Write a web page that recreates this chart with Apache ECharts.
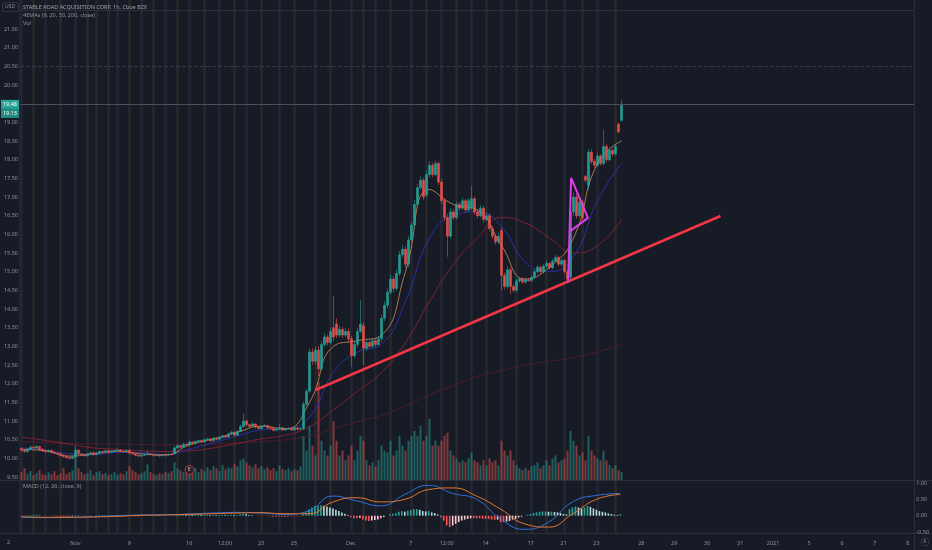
<!DOCTYPE html>
<html>
<head>
<meta charset="utf-8">
<title>STABLE ROAD ACQUISITION CORP, 1h</title>
<script src="https://cdn.jsdelivr.net/npm/echarts@6/dist/echarts.min.js"></script>
<style>
html, body { margin: 0; padding: 0; background: #171b26; }
#main { width: 932px; height: 550px; }
</style>
</head>
<body>
<div id="main"></div>
<script>
// hourly bars, one value per slot (slot 0 = first bar on screen)
var opens = [
	10.26,10.22,10.18,10.25,10.30,10.28,10.32,10.24,10.20,10.18,
	10.21,10.16,10.14,10.12,10.08,10.05,10.02,10.00,10.04,10.22,
	10.12,10.10,10.07,10.12,10.15,10.10,10.14,10.18,10.17,10.20,
	10.16,10.19,10.21,10.22,10.19,10.18,10.21,10.15,10.12,10.08,
	10.06,10.08,10.10,10.12,10.10,10.08,10.09,10.07,10.10,10.09,
	10.11,10.12,10.28,10.34,10.30,10.38,10.36,10.44,10.40,10.45,
	10.48,10.44,10.50,10.52,10.47,10.54,10.51,10.56,10.60,10.57,
	10.65,10.70,10.62,10.72,10.85,11.00,10.90,10.86,10.92,10.84,
	10.80,10.86,10.88,10.82,10.80,10.75,10.78,10.82,10.76,10.79,
	10.80,10.76,10.81,10.78,10.80,11.45,11.80,12.85,12.60,12.90,
	12.40,13.05,13.25,13.10,13.50,13.60,13.30,13.45,13.30,13.40,
	13.20,12.75,13.05,13.40,13.55,12.95,13.10,13.00,13.15,13.05,
	13.20,13.75,14.10,14.45,14.80,14.55,14.95,15.45,15.60,15.20,
	15.85,16.25,16.80,17.25,17.45,17.05,17.60,17.85,17.60,17.90,
	17.40,16.90,16.45,15.95,16.60,16.45,16.80,16.70,16.90,16.65,
	16.70,16.95,16.60,16.50,16.70,16.40,16.50,16.15,15.95,15.80,
	16.10,14.90,14.60,15.05,14.60,14.50,14.75,14.80,14.72,14.78,
	14.76,14.85,15.00,15.12,15.00,15.15,15.22,15.10,15.28,15.38,
	15.20,15.30,15.00,14.85,16.60,17.00,16.50,16.85,17.55,17.30,
	18.20,17.95,17.85,18.10,17.90,18.35,18.00,18.25,18.15,18.95,
	19.05
];
var closes = [
	10.22,10.18,10.25,10.30,10.28,10.32,10.24,10.20,10.18,10.21,
	10.16,10.14,10.12,10.08,10.05,10.02,10.00,10.04,10.22,10.12,
	10.10,10.07,10.12,10.15,10.10,10.14,10.18,10.17,10.20,10.16,
	10.19,10.21,10.22,10.19,10.18,10.21,10.15,10.12,10.08,10.06,
	10.08,10.10,10.12,10.10,10.08,10.09,10.07,10.10,10.09,10.11,
	10.10,10.28,10.34,10.30,10.38,10.36,10.44,10.40,10.45,10.48,
	10.44,10.50,10.52,10.47,10.54,10.51,10.56,10.60,10.57,10.65,
	10.70,10.62,10.72,10.85,11.00,10.90,10.86,10.92,10.84,10.80,
	10.86,10.88,10.82,10.80,10.75,10.78,10.82,10.76,10.79,10.80,
	10.76,10.81,10.78,10.80,11.45,11.80,12.85,12.60,12.90,12.40,
	13.05,13.25,13.10,13.40,13.25,13.30,13.45,13.30,13.40,13.20,
	12.75,13.05,13.40,13.60,12.95,13.10,13.00,13.15,13.05,13.20,
	13.75,14.10,14.45,14.80,14.55,14.95,15.45,15.60,15.20,15.85,
	16.25,16.80,17.25,17.45,17.00,17.60,17.85,17.60,17.90,17.40,
	16.90,16.45,15.95,16.60,16.45,16.80,16.70,16.90,16.65,16.90,
	16.95,16.60,16.50,16.70,16.40,16.50,16.15,15.95,15.80,15.95,
	14.90,14.60,15.05,14.60,14.50,14.75,14.80,14.72,14.78,14.76,
	14.85,15.00,15.12,15.00,15.15,15.22,15.10,15.28,15.38,15.20,
	15.30,15.00,14.80,16.60,17.00,16.50,16.85,16.45,17.45,18.20,
	17.95,17.85,18.10,17.90,18.35,18.00,18.25,18.15,18.35,18.75,
	19.48
];
var lows = [
	10.17,10.15,10.15,10.22,10.25,10.25,10.21,10.17,10.15,10.15,
	10.13,10.11,10.09,10.05,10.02,9.99,9.97,9.98,10.02,10.09,
	10.07,10.04,10.05,10.10,10.07,10.08,10.12,10.14,10.15,10.13,
	10.14,10.17,10.19,10.16,10.15,10.16,10.10,10.09,10.05,10.03,
	10.03,10.06,10.07,10.07,10.05,10.06,10.04,10.05,10.06,10.07,
	10.07,10.10,10.25,10.27,10.28,10.33,10.34,10.37,10.38,10.42,
	10.41,10.42,10.47,10.44,10.45,10.48,10.49,10.53,10.54,10.55,
	10.62,10.58,10.60,10.70,10.82,10.86,10.82,10.84,10.80,10.77,
	10.77,10.84,10.79,10.77,10.72,10.73,10.76,10.73,10.74,10.76,
	10.73,10.74,10.75,10.76,10.76,11.40,11.75,12.50,12.50,12.20,
	12.35,12.98,13.02,13.05,13.15,13.22,13.25,13.22,13.25,13.12,
	12.45,12.68,12.98,13.35,12.50,12.88,12.94,12.95,12.98,13.00,
	13.12,13.68,14.02,14.38,14.45,14.48,14.88,15.38,15.10,15.12,
	15.78,16.18,16.72,17.18,16.92,16.98,17.52,17.52,17.55,17.32,
	16.80,16.35,15.40,15.88,16.38,16.40,16.62,16.65,16.58,16.60,
	16.65,16.52,16.42,16.45,16.32,16.35,16.08,15.88,15.72,15.74,
	14.50,14.52,14.55,14.40,14.44,14.45,14.70,14.68,14.68,14.72,
	14.72,14.80,14.95,14.95,14.96,15.10,15.05,15.06,15.24,15.14,
	15.15,14.95,14.70,14.80,16.50,16.42,16.44,16.38,17.38,17.20,
	17.88,17.78,17.80,17.84,17.85,17.92,17.95,18.08,18.10,18.70,
	19.02
];
var highs = [
	10.29,10.25,10.28,10.34,10.33,10.35,10.34,10.27,10.23,10.24,
	10.24,10.19,10.17,10.15,10.11,10.08,10.05,10.07,10.33,10.24,
	10.15,10.13,10.14,10.18,10.17,10.17,10.21,10.20,10.23,10.22,
	10.22,10.23,10.25,10.24,10.21,10.23,10.24,10.17,10.14,10.10,
	10.10,10.12,10.22,10.14,10.12,10.11,10.11,10.12,10.12,10.13,
	10.13,10.33,10.38,10.36,10.42,10.40,10.47,10.46,10.48,10.50,
	10.50,10.53,10.55,10.54,10.57,10.56,10.59,10.63,10.62,10.68,
	10.74,10.72,10.76,10.90,11.20,11.04,10.93,10.96,10.94,10.87,
	10.89,10.91,10.90,10.84,10.82,10.81,10.92,10.84,10.82,10.83,
	10.83,10.84,10.83,10.83,11.52,11.86,12.95,12.95,13.00,13.02,
	13.15,13.35,13.32,13.50,14.35,13.75,13.55,13.52,13.50,13.48,
	13.28,13.15,13.50,14.25,13.65,13.18,13.16,13.22,13.20,13.28,
	13.85,14.20,14.55,14.92,14.88,15.05,15.55,15.72,15.68,15.95,
	16.35,16.92,17.35,17.55,17.52,17.70,17.95,17.92,17.98,17.95,
	17.48,16.98,16.55,16.70,16.68,16.88,16.86,16.98,16.95,16.98,
	17.30,17.02,16.68,16.78,16.76,16.58,16.56,16.22,16.02,16.05,
	16.18,14.98,15.15,15.12,14.66,14.82,14.86,14.85,14.84,14.83,
	14.90,15.06,15.18,15.16,15.20,15.28,15.26,15.34,15.45,15.42,
	15.35,15.34,15.05,17.10,17.12,17.08,16.95,16.92,17.60,18.28,
	18.28,18.02,18.18,18.15,18.80,18.42,18.32,18.30,18.42,19.00,
	19.60
];
var volumes = [
	8,12,6,9,5,7,10,6,5,8,
	6,9,5,7,12,6,8,10,28,12,
	8,6,7,10,5,8,9,6,7,5,
	6,8,5,7,6,9,14,10,8,6,
	7,9,16,8,6,5,7,6,8,7,
	9,18,12,10,8,14,10,9,12,8,
	11,9,13,10,14,12,9,15,11,13,
	12,16,14,20,22,18,15,13,16,12,
	14,11,13,10,12,9,15,11,10,12,
	9,11,10,14,45,30,55,35,25,100,
	40,30,25,35,60,40,25,30,20,25,
	35,20,30,45,40,20,15,18,14,20,
	35,30,28,40,25,30,45,35,30,40,
	45,50,45,55,40,45,62,35,40,35,
	40,45,48,30,25,22,18,20,18,22,
	28,20,18,15,20,15,22,18,20,15,
	40,30,25,30,20,15,12,10,12,10,
	14,15,18,12,15,20,15,22,25,18,
	20,22,30,50,40,35,25,28,20,45,
	30,25,22,20,30,20,15,12,15,10,
	8
];
var macdHist = [
	-0.01,-0.01,0.01,0.02,0.02,0.03,0.01,0.0,-0.01,0.0,
	-0.01,-0.02,-0.02,-0.03,-0.03,-0.03,-0.03,-0.02,0.02,0.01,
	0.0,-0.01,0.0,0.01,0.0,0.01,0.02,0.02,0.02,0.01,
	0.02,0.02,0.02,0.01,0.01,0.01,-0.01,-0.01,-0.02,-0.02,
	-0.01,-0.01,0.0,-0.01,-0.01,-0.01,-0.01,0.0,0.0,0.0,
	0.0,0.03,0.04,0.04,0.05,0.04,0.05,0.04,0.04,0.04,
	0.03,0.03,0.03,0.02,0.03,0.02,0.02,0.03,0.02,0.03,
	0.03,0.02,0.02,0.04,0.05,0.04,0.02,0.01,0.0,-0.01,
	-0.01,-0.01,-0.02,-0.02,-0.03,-0.03,-0.02,-0.03,-0.03,-0.02,
	-0.02,-0.02,-0.02,-0.02,0.05,0.1,0.2,0.25,0.3,0.3,
	0.32,0.3,0.28,0.25,0.22,0.18,0.14,0.1,0.06,0.02,
	-0.05,-0.08,-0.08,-0.06,-0.12,-0.15,-0.16,-0.15,-0.13,-0.12,
	-0.08,-0.04,0.0,0.04,0.06,0.08,0.12,0.14,0.12,0.15,
	0.17,0.2,0.2,0.18,0.14,0.13,0.14,0.1,0.08,0.04,
	-0.05,-0.15,-0.3,-0.35,-0.3,-0.25,-0.2,-0.15,-0.12,-0.1,
	-0.08,-0.08,-0.08,-0.08,-0.1,-0.1,-0.1,-0.12,-0.13,-0.12,
	-0.2,-0.2,-0.18,-0.16,-0.12,-0.1,-0.06,-0.03,0.0,0.03,
	0.05,0.08,0.1,0.12,0.13,0.13,0.12,0.12,0.11,0.1,
	0.08,0.05,0.04,0.2,0.25,0.28,0.25,0.22,0.25,0.3,
	0.27,0.22,0.18,0.14,0.12,0.1,0.07,0.05,0.03,0.02,
	0.05
];

// indicator lines read every 8th slot
var lineSlots = [0,8,16,24,32,40,48,56,64,72,80,88,96,104,112,120,128,136,144,152,160,168,176,184,192,200];
var ema9 = [10.24,10.20,10.06,10.12,10.19,10.12,10.09,10.36,10.52,10.70,10.86,10.79,11.50,13.00,13.15,13.30,15.00,17.20,16.80,16.65,15.70,14.80,15.12,15.90,17.90,18.50];
var ema20 = [10.28,10.22,10.12,10.10,10.16,10.15,10.10,10.25,10.42,10.60,10.76,10.79,11.10,12.30,12.85,13.05,14.20,15.90,16.50,16.60,16.20,15.25,15.00,15.40,16.90,17.90];
var ema50 = [10.57,10.48,10.38,10.28,10.24,10.20,10.18,10.20,10.28,10.40,10.52,10.62,10.85,11.30,11.80,12.30,13.10,14.20,15.20,15.90,16.45,16.30,15.90,15.50,15.70,16.40];
var ema200 = [10.45,10.42,10.40,10.39,10.38,10.37,10.36,10.37,10.38,10.41,10.45,10.50,10.60,10.80,10.98,11.15,11.40,11.70,11.95,12.20,12.35,12.50,12.60,12.70,12.85,13.05];
var macdLine = [-0.05,-0.06,-0.05,-0.03,0.0,0.02,0.03,0.05,0.08,0.10,0.08,0.04,0.15,0.60,0.45,0.30,0.65,0.93,0.68,0.50,-0.10,-0.42,-0.20,0.42,0.62,0.68];
var signalLine = [-0.03,-0.05,-0.05,-0.04,-0.02,0.01,0.02,0.04,0.06,0.08,0.09,0.06,0.06,0.42,0.55,0.42,0.50,0.80,0.85,0.60,0.20,-0.25,-0.35,0.05,0.50,0.65];

// session starts (extended hours shading)
var sessionSlots = [0,4,8,13,18,22,25,29,32,36,40,44,48,52,56,61,66,71,75,80,86,91,98,103,110,114,118,123,130,135,140,145,150,155,160,165,170,175,181,187,192,198];

// time axis labels
var tickSlots = [18,36,56,68,80,91,110,130,142,155,170,181,192,207,218,229,240,251,263,274,285,296];
var tickLabels = ['Nov','9','16','12:00','23','25','Dec','7','12:00','14','17','21','23','28','29','30','31','2021','5','6','7','8'];

// drawings (slot, price)
var trendLine = [[98, 11.83], [233, 16.49]];
var flagPath = [[182.2, 14.72], [183.2, 17.51], [188.8, 16.44], [182.5, 16.06]];

var lastPrice = 19.48;
var prePrice = 19.13;

var UP = '#26a69a', DOWN = '#ef5350';
var TXT = '#8f929b';
var FONT = 'Noto Sans';

var candleData = closes.map(function(c, i) { return [i, opens[i], c, lows[i], highs[i]]; });
var volData = volumes.map(function(v, i) {
	return { value: [i, v], itemStyle: { color: closes[i] >= opens[i] ? 'rgba(38,166,154,0.5)' : 'rgba(239,83,80,0.5)' } };
});
var histData = macdHist.map(function(h, i) {
	var prev = i > 0 ? macdHist[i - 1] : h;
	var col;
	if(h >= 0) col = h >= prev ? '#26a69a' : '#b2dfdb';
	else col = h <= prev ? '#ff5252' : '#ffcdd2';
	return { value: [i, h], itemStyle: { color: col } };
});
function pts(arr) {
	return lineSlots.map(function(s, k) { return [s, arr[k]]; });
}
// alternate the two shading tones like the pre / post market bands
var stripeData = sessionSlots.map(function(s, k) {
	return { value: [s, 1], itemStyle: { color: k % 2 ? 'rgba(120,98,60,0.2)' : 'rgba(95,100,95,0.17)' } };
});

function xAx(grid, showLabels) {
	return {
		type: 'value', gridIndex: grid, min: -0.5, max: 297.5,
		axisLine: { show: false }, axisTick: { show: false }, splitLine: { show: false },
		axisLabel: showLabels ? {
			customValues: tickSlots,
			color: TXT, fontSize: 5.5, fontFamily: FONT, margin: 8,
			formatter: function(v) {
				var k = tickSlots.indexOf(v);
				return k >= 0 ? tickLabels[k] : '';
			}
		} : { show: false }
	};
}

var chart = echarts.init(document.getElementById('main'));
var option = {
	backgroundColor: '#171b26',
	animation: false,
	grid: [
		{ left: 20, right: 18, top: 10.3, height: 466.7 },
		{ left: 20, right: 18, top: 370, height: 110 },
		{ left: 20, right: 18, top: 483, height: 49 },
		{ left: 20, right: 18, top: 0, height: 533 }
	],
	xAxis: [xAx(0, false), xAx(1, false), xAx(2, true), xAx(3, false)],
	yAxis: [
		{
			type: 'value', gridIndex: 0, position: 'left', min: 9.5, max: 22, interval: 0.5,
			axisLine: { show: false }, axisTick: { show: false }, splitLine: { show: false },
			axisLabel: {
				color: TXT, fontSize: 5.5, fontFamily: FONT, margin: 2,
				formatter: function(v) { return v >= 22 ? '' : v.toFixed(2); }
			}
		},
		{ type: 'value', gridIndex: 1, min: 0, max: 112, show: false },
		{
			type: 'value', gridIndex: 2, position: 'right', min: -0.5, max: 1, interval: 0.5,
			axisLine: { show: false }, axisTick: { show: false }, splitLine: { show: false },
			axisLabel: {
				color: TXT, fontSize: 5.5, fontFamily: FONT, margin: 4,
				showMinLabel: true, showMaxLabel: true,
				formatter: function(v) { return v.toFixed(2); }
			}
		},
		{ type: 'value', gridIndex: 3, min: 0, max: 1, show: false }
	],
	graphic: [
		{ type: 'line', shape: { x1: 19.5, y1: 0, x2: 19.5, y2: 533 }, style: { stroke: '#232733', lineWidth: 1 }, silent: true },
		{ type: 'line', shape: { x1: 914.5, y1: 0, x2: 914.5, y2: 550 }, style: { stroke: '#2a2e39', lineWidth: 1 }, silent: true },
		{ type: 'line', shape: { x1: 0, y1: 480.5, x2: 932, y2: 480.5 }, style: { stroke: '#2a2e39', lineWidth: 1 }, silent: true },
		{ type: 'line', shape: { x1: 0, y1: 533.5, x2: 932, y2: 533.5 }, style: { stroke: '#2a2e39', lineWidth: 1 }, silent: true },
		{ type: 'rect', shape: { x: 2.5, y: 2.5, width: 16, height: 9, r: 1.5 }, style: { fill: 'none', stroke: '#3a3e4a', lineWidth: 0.8 }, silent: true },
		{ type: 'text', left: 5, top: 4.3, style: { text: 'USD', fill: TXT, font: '5px ' + FONT }, silent: true },
		{ type: 'text', left: 23, top: 4, style: { text: 'STABLE ROAD ACQUISITION CORP, 1h, Cboe BZX', fill: '#a3a6af', font: '5.5px ' + FONT }, silent: true },
		{ type: 'text', left: 23, top: 12, style: { text: '4EMAs (9, 20, 50, 200, close)', fill: TXT, font: '5.5px ' + FONT }, silent: true },
		{ type: 'text', left: 23, top: 20, style: { text: 'Vol', fill: TXT, font: '5.5px ' + FONT }, silent: true },
		{ type: 'text', left: 23, top: 483, style: { text: 'MACD (12, 26, close, 9)', fill: TXT, font: '5.5px ' + FONT }, silent: true },
		{ type: 'text', left: 7, top: 539.5, style: { text: '2', fill: TXT, font: '5.5px ' + FONT }, silent: true },
		{ type: 'circle', shape: { cx: 925, cy: 542, r: 4 }, style: { fill: 'none', stroke: '#3a3e4a', lineWidth: 0.8 }, silent: true },
		{ type: 'text', left: 923.3, top: 539.3, style: { text: 'A', fill: TXT, font: '5px ' + FONT }, silent: true }
	],
	series: [
		{
			name: 'sessions', type: 'bar', xAxisIndex: 3, yAxisIndex: 3, data: stripeData,
			barWidth: 2.5, silent: true, z: 0
		},
		{
			name: 'Vol', type: 'bar', xAxisIndex: 1, yAxisIndex: 1, data: volData,
			barWidth: 2, silent: true, z: 1
		},
		{
			name: 'EMA200', type: 'line', data: pts(ema200), smooth: true, symbol: 'none', silent: true, z: 2,
			lineStyle: { color: '#5a1d2c', width: 1, opacity: 0.8 }
		},
		{
			name: 'EMA50', type: 'line', data: pts(ema50), smooth: true, symbol: 'none', silent: true, z: 2,
			lineStyle: { color: '#8e2236', width: 1, opacity: 0.85 }
		},
		{
			name: 'EMA20', type: 'line', data: pts(ema20), smooth: true, symbol: 'none', silent: true, z: 2,
			lineStyle: { color: '#2c2fa6', width: 1 }
		},
		{
			name: 'EMA9', type: 'line', data: pts(ema9), smooth: true, symbol: 'none', silent: true, z: 2,
			lineStyle: { color: '#b8844f', width: 0.9 }
		},
		{
			name: 'price', type: 'candlestick', data: candleData, encode: { x: 0, y: [1, 2, 3, 4] },
			barWidth: 2, silent: true, z: 3,
			itemStyle: { color: UP, color0: DOWN, borderColor: UP, borderColor0: DOWN, borderWidth: 0.6, opacity: 0.9 },
			markLine: {
				silent: true, symbol: 'none', animation: false,
				data: [
					{ yAxis: 22, lineStyle: { color: '#2c303b', width: 1, type: 'solid' }, label: { show: false } },
					{ yAxis: 20.5, lineStyle: { color: '#363a46', width: 1, type: 'dashed' }, label: { show: false } },
					{
						yAxis: lastPrice, lineStyle: { color: '#4a4f5c', width: 1, type: 'solid' },
						label: { show: true, position: 'start', distance: 1, formatter: lastPrice.toFixed(2), color: '#ffffff', backgroundColor: '#26a69a', fontSize: 5.5, fontFamily: FONT, padding: [1.5, 2] }
					},
					{
						yAxis: prePrice, lineStyle: { color: 'rgba(0,0,0,0)', width: 1 },
						label: { show: true, position: 'start', distance: 1, offset: [0, -4], formatter: prePrice.toFixed(2), color: '#ffffff', backgroundColor: '#1f8b80', fontSize: 5.5, fontFamily: FONT, padding: [1.5, 2] }
					}
				]
			},
			markPoint: {
				silent: true, symbol: 'circle', symbolSize: 9,
				itemStyle: { color: '#2a1d26', borderColor: '#a8403f', borderWidth: 1 },
				label: { show: true, formatter: 'E', color: '#d0d0d0', fontSize: 5, fontFamily: FONT },
				data: [{ coord: [56, 9.69] }]
			}
		},
		{
			name: 'trend', type: 'line', data: trendLine, symbol: 'none', silent: true, z: 5,
			lineStyle: { color: '#f23645', width: 2.5 }
		},
		{
			name: 'flag', type: 'line', data: flagPath, symbol: 'none', silent: true, z: 5,
			lineStyle: { color: '#e03ce6', width: 2 }
		},
		{
			name: 'Histogram', type: 'bar', xAxisIndex: 2, yAxisIndex: 2, data: histData,
			barWidth: 1.6, silent: true, z: 2
		},
		{
			name: 'MACD', type: 'line', xAxisIndex: 2, yAxisIndex: 2, data: pts(macdLine), smooth: true, symbol: 'none', silent: true, z: 3,
			lineStyle: { color: '#2f6fe0', width: 1 }
		},
		{
			name: 'Signal', type: 'line', xAxisIndex: 2, yAxisIndex: 2, data: pts(signalLine), smooth: true, symbol: 'none', silent: true, z: 3,
			lineStyle: { color: '#e6762a', width: 1 }
		}
	]
};
chart.setOption(option);
</script>
</body>
</html>
